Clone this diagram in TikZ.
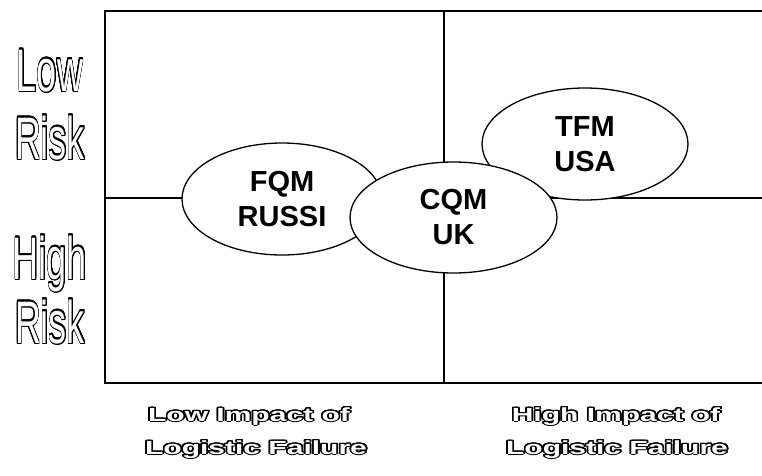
\documentclass[tikz,border=0pt]{standalone}
\usepackage{fontspec}
\setmainfont{Liberation Sans}
\usepackage{contour}
\contournumber{24}
\usetikzlibrary{shapes.geometric}
\newcommand{\hollowtxt}[3]{\scalebox{#1}[1]{\contourlength{#2}{\color{white}\contour{black}{#3}}}}
\begin{document}
\begin{tikzpicture}[x=1pt,y=-1pt,
  frame/.style={line width=2pt},
  midline/.style={line width=1.4pt},
  bub/.style={ellipse, draw, line width=1.3pt, fill=white, inner sep=0pt, align=center,
    font=\fontsize{29}{35}\selectfont\bfseries},
  side/.style={inner sep=0pt, anchor=base, font=\fontsize{60}{60}\selectfont},
  bot/.style={inner sep=0pt, anchor=base, font=\fontsize{19}{19}\selectfont\bfseries}]
\useasboundingbox[fill=white] (0,0) rectangle (762,475);
% frame
\coordinate (tr) at (762,11);
\coordinate (tl) at (105,11);
\coordinate (bl) at (105,383);
\coordinate (br) at (762,383);
\coordinate (mt) at (444,11);
\coordinate (mb) at (444,383);
\coordinate (ml) at (105,198);
\coordinate (mr) at (762,198);
\draw[frame] (tr) -- (tl) -- (bl) -- (br);
\draw[midline] (mt) -- (mb);
\draw[midline] (ml) -- (mr);
% bubbles
\node[bub, minimum width=200pt, minimum height=112pt] (fqm) at (282,199) {FQM\\RUSSI};
\node[bub, minimum width=206pt, minimum height=112pt] (tfm) at (585,144) {TFM\\USA};
\node[bub, minimum width=207pt, minimum height=111pt] (cqm) at (453.5,217.5) {CQM\\UK};
% side labels
\node[side] (low) at (50,91) {\hollowtxt{0.6}{1.3pt}{Low}};
\node[side] (risk1) at (50,159) {\hollowtxt{0.6}{1.3pt}{Risk}};
\node[side] (high) at (50,279) {\hollowtxt{0.6}{1.3pt}{High}};
\node[side] (risk2) at (50,343) {\hollowtxt{0.6}{1.3pt}{Risk}};
% bottom labels
\node[bot] (lowimp) at (249,421) {\hollowtxt{1.58}{1pt}{Low Impact of}};
\node[bot] (lowlog) at (256,454) {\hollowtxt{1.58}{1pt}{Logistic Failure}};
\node[bot] (highimp) at (616,421) {\hollowtxt{1.58}{1pt}{High Impact of}};
\node[bot] (highlog) at (617,454) {\hollowtxt{1.58}{1pt}{Logistic Failure}};
\end{tikzpicture}
\end{document}
